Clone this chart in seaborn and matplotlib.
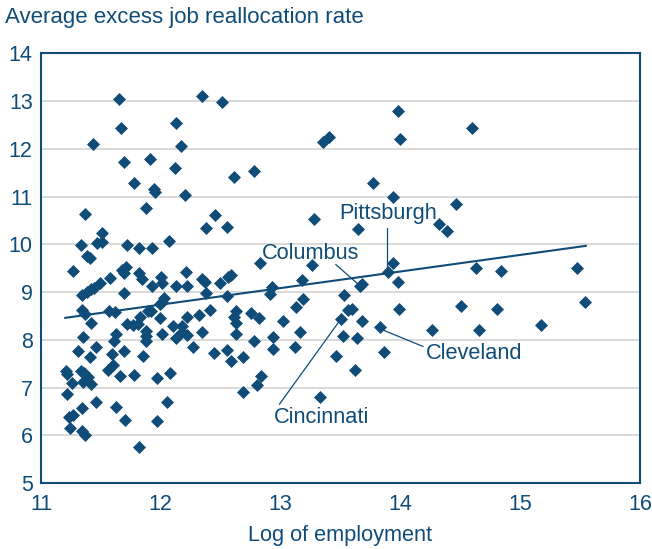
import numpy as np
import pandas as pd
import seaborn as sns
import matplotlib.pyplot as plt

# log of employment (x) and average excess job reallocation rate (y)
log_emp = [
    11.65, 11.67, 11.43, 11.69, 11.78, 11.91, 11.94, 11.95, 11.88, 12.34,
    12.51, 12.13, 12.17, 12.12, 12.20, 12.61, 12.78, 12.45, 12.38, 12.55,
    11.37, 11.33, 11.38, 11.41, 11.47, 11.51, 11.51, 11.72, 11.82, 11.93,
    12.07, 13.28, 13.35, 13.40, 12.83, 13.26,
    13.98, 14.00, 14.60, 13.77, 13.94, 14.46, 14.32, 14.39, 13.65, 13.90,
    13.94, 14.63, 14.84, 15.47, 13.66, 13.68, 13.98, 13.53, 13.56, 13.60,
    13.99, 14.51, 14.81, 15.54, 13.50, 13.68, 13.83, 14.26, 14.66, 15.17,
    13.52, 13.64, 13.46, 13.86, 13.62, 13.33, 13.18, 13.19, 13.13, 13.16,
    13.12,
    12.21, 12.13, 12.22, 12.34, 12.37, 12.49, 12.56, 12.59, 12.93, 12.91,
    12.38, 12.55, 12.41, 12.32, 12.22, 12.10, 12.18, 12.18, 12.22, 12.13,
    12.34, 12.27, 12.63, 12.61, 12.63, 12.63, 12.75, 12.82, 13.02, 12.94,
    12.94, 12.78, 12.44, 12.55, 12.69, 12.59, 12.08, 12.84, 12.69, 12.80,
    12.05,
    11.27, 11.49, 11.58, 11.68, 11.71, 11.69, 11.82, 11.84, 12.00, 12.01,
    11.93, 11.34, 11.38, 11.42, 11.44, 11.69, 11.34, 11.37, 11.42, 11.57,
    11.62, 11.63, 11.61, 11.72, 11.77, 11.81, 11.83, 11.89, 11.92, 11.99,
    11.99, 12.03, 12.01, 12.01, 11.88, 11.88, 11.88, 11.35, 11.31, 11.46,
    11.41, 11.59, 11.60, 11.69, 11.85, 11.56, 11.66, 11.78, 11.97, 11.21,
    11.22, 11.33, 11.36, 11.39, 11.35, 11.42, 11.26, 11.22, 11.23, 11.27,
    11.34, 11.46, 11.24, 11.34, 11.37, 11.63, 11.70, 11.82, 11.97,
]
realloc = [
    13.04, 12.44, 12.11, 11.73, 11.29, 11.79, 11.17, 11.09, 10.77, 13.11,
    12.99, 12.55, 12.06, 11.60, 11.03, 11.41, 11.53, 10.61, 10.35, 10.37,
    10.63, 9.99, 9.76, 9.72, 10.02, 10.05, 10.24, 9.98, 9.93, 9.93,
    10.08, 10.54, 12.15, 12.26, 9.60, 9.57,
    12.80, 12.21, 12.44, 11.29, 11.00, 10.85, 10.43, 10.29, 10.33, 9.43,
    9.62, 9.51, 9.45, 9.51, 9.12, 9.16, 9.21, 8.93, 8.62, 8.65,
    8.65, 8.70, 8.65, 8.80, 8.43, 8.40, 8.27, 8.21, 8.21, 8.32,
    8.08, 8.04, 7.67, 7.75, 7.36, 6.81, 9.26, 8.86, 8.68, 8.17,
    7.86,
    9.43, 9.13, 9.13, 9.28, 9.22, 9.19, 9.31, 9.35, 9.10, 8.97,
    8.99, 8.91, 8.63, 8.51, 8.47, 8.28, 8.30, 8.16, 8.11, 8.03,
    8.17, 7.86, 8.61, 8.47, 8.36, 8.13, 8.56, 8.46, 8.40, 8.05,
    7.80, 7.97, 7.73, 7.78, 7.63, 7.55, 7.30, 7.25, 6.90, 7.05,
    6.69,
    9.45, 9.19, 9.29, 9.47, 9.53, 9.41, 9.41, 9.28, 9.32, 9.20,
    9.12, 8.93, 9.00, 9.06, 9.09, 8.98, 8.63, 8.55, 8.36, 8.60,
    8.59, 8.13, 7.97, 8.33, 8.32, 8.34, 8.48, 8.61, 8.61, 8.46,
    8.76, 8.88, 8.80, 8.12, 8.19, 8.08, 7.97, 8.05, 7.76, 7.84,
    7.63, 7.71, 7.48, 7.76, 7.67, 7.36, 7.25, 7.27, 7.19, 7.34,
    7.29, 7.35, 7.30, 7.23, 7.11, 7.08, 7.10, 6.87, 6.39, 6.42,
    6.58, 6.69, 6.16, 6.08, 6.00, 6.59, 6.31, 5.75, 6.29,
]

# fitted line end points
trend_x = [11.20, 15.55]
trend_y = [8.46, 9.97]

# city labels: name, label position, leader line start/end
cities = ["Pittsburgh", "Columbus", "Cleveland", "Cincinnati"]
label_x = [13.49, 12.84, 14.21, 12.94]
label_y = [10.64, 9.80, 7.71, 6.37]
lead_x0 = [13.89, 13.46, 13.85, 12.99]
lead_y0 = [10.35, 9.58, 8.21, 6.65]
lead_x1 = [13.89, 13.65, 14.19, 13.49]
lead_y1 = [9.47, 9.16, 7.86, 8.39]

blue = "#0f4c78"
sns.set_style("white")
plt.rcParams["font.family"] = ["Liberation Sans", "DejaVu Sans"]

df = pd.DataFrame({"x": log_emp, "y": realloc})

fig = plt.figure(figsize=(6.52, 5.49), dpi=100)
ax = fig.add_axes([41 / 652, 1 - 483 / 549, 599 / 652, 429.5 / 549])

ax.grid(axis="y", color="#d3d3d3", linewidth=1.2)
ax.set_axisbelow(True)

sns.scatterplot(data=df, x="x", y="y", marker="D", s=44, color=blue,
                linewidth=0, ax=ax, zorder=3)
sns.lineplot(x=trend_x, y=trend_y, color=blue, linewidth=1.5, ax=ax, zorder=2)

for name, lx, ly, x0, y0, x1, y1 in zip(cities, label_x, label_y,
                                        lead_x0, lead_y0, lead_x1, lead_y1):
    ax.text(lx, ly, name, fontsize=15.7, color=blue, ha="left", va="center")
    ax.plot([x0, x1], [y0, y1], color=blue, linewidth=0.9)

ax.set_xlim(11, 16)
ax.set_ylim(5, 14)
ax.set_xticks(range(11, 17))
ax.set_yticks(range(5, 15))
ax.set_xlabel("")
ax.set_ylabel("")
ax.tick_params(axis="both", direction="in", length=4, width=1.2,
               color=blue, labelcolor=blue, labelsize=15.5)
ax.tick_params(axis="x", pad=8)
ax.tick_params(axis="y", pad=6)
for side in ["left", "bottom", "top", "right"]:
    ax.spines[side].set_visible(True)
    ax.spines[side].set_color(blue)
    ax.spines[side].set_linewidth(1.5)

fig.text(5 / 652, 1 - 18 / 549, "Average excess job reallocation rate",
         fontsize=16, color=blue, ha="left", va="center")
fig.text(340 / 652, 1 - 535 / 549, "Log of employment",
         fontsize=15.7, color=blue, ha="center", va="center")

fig.savefig("out.png", dpi=100)
